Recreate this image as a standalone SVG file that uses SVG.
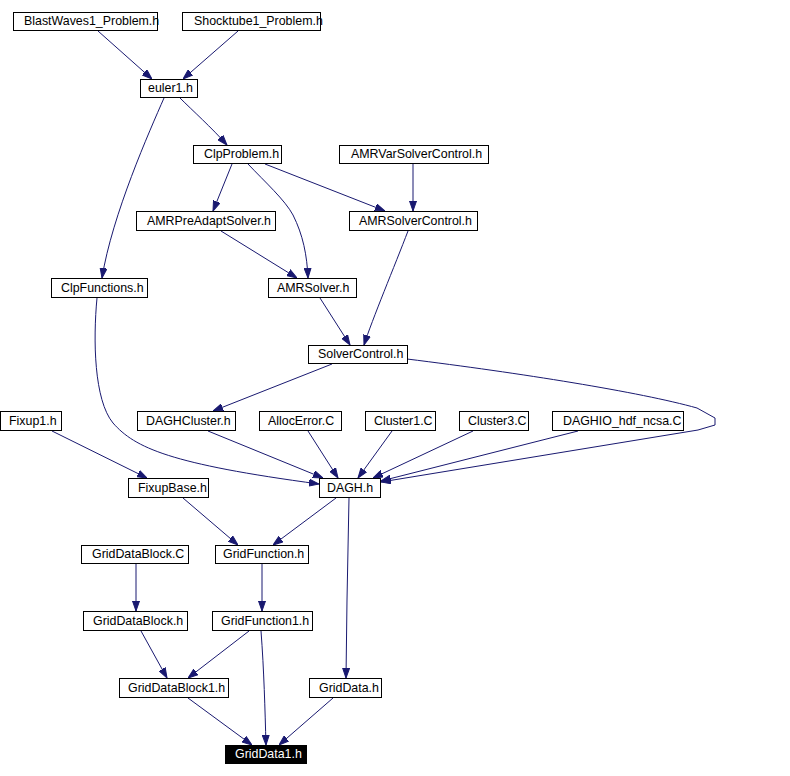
<svg xmlns="http://www.w3.org/2000/svg" width="790" height="776" viewBox="0 0 790 776">
<defs>
<style>
.n rect{fill:#fff;stroke:#000;stroke-width:1}
.n text{font-family:"Liberation Sans",Arial,sans-serif;font-size:12.4px;fill:#000}
#n25 rect{fill:#000}
#n25 text{fill:#fff}
.e path{fill:none;stroke:#191970;stroke-width:1;marker-end:url(#ah)}
</style>
<marker id="ah" markerUnits="userSpaceOnUse" markerWidth="10" markerHeight="8" refX="10" refY="4" orient="auto">
<path d="M0,0.5 L10,4 L0,7.5 z" fill="#191970" stroke="#191970" stroke-width="1"/>
</marker>
</defs>
<rect width="790" height="776" fill="#fff"/>
<g id="edges" class="e">
<path d="M98,31 L152,79"/>
<path d="M238,31 L183,79"/>
<path d="M180,98 C192,110 212,128 227,145"/>
<path d="M164,98 C150,130 112,215 102,278"/>
<path d="M232,164 L213,211"/>
<path d="M248,164 C265,182 285,200 293,215 C303,235 307,255 308,278"/>
<path d="M265,164 L385,211"/>
<path d="M413,164 L413,211"/>
<path d="M221,231 L297,278"/>
<path d="M408,231 C395,265 372,320 364,345"/>
<path d="M320,298 L350,345"/>
<path d="M332,364 L213,411"/>
<path d="M407,359 C520,373 640,392 697,408 L715,418 L715,425 L698,430 L381,482"/>
<path d="M97,298 C93,340 94,400 113,423 C135,448 170,464 319,484"/>
<path d="M208,431 L323,478"/>
<path d="M308,431 L338,478"/>
<path d="M392,431 L358,478"/>
<path d="M473,431 L373,478"/>
<path d="M578,431 L381,481"/>
<path d="M52,431 L147,478"/>
<path d="M183,498 L238,545"/>
<path d="M336,498 L273,545"/>
<path d="M349,498 L347,600 L346,678"/>
<path d="M136,564 L136,611"/>
<path d="M262,564 L262,611"/>
<path d="M141,631 L167,678"/>
<path d="M249,631 L188,678"/>
<path d="M261,631 C264,670 265,710 266,745"/>
<path d="M188,698 L252,745"/>
<path d="M333,698 L279,745"/>
</g>
<g id="n1" class="n"><rect x="13.5" y="12.5" width="144" height="18"/><text x="24" y="25">BlastWaves1_Problem.h</text></g>
<g id="n2" class="n"><rect x="182.5" y="12.5" width="138" height="18"/><text x="194" y="25">Shocktube1_Problem.h</text></g>
<g id="n3" class="n"><rect x="140.5" y="79.5" width="57" height="18"/><text x="148" y="92">euler1.h</text></g>
<g id="n4" class="n"><rect x="193.5" y="145.5" width="88" height="18"/><text x="204" y="158">ClpProblem.h</text></g>
<g id="n5" class="n"><rect x="339.5" y="145.5" width="149" height="18"/><text x="351" y="158">AMRVarSolverControl.h</text></g>
<g id="n6" class="n"><rect x="136.5" y="211.5" width="139" height="19"/><text x="147" y="225">AMRPreAdaptSolver.h</text></g>
<g id="n7" class="n"><rect x="349.5" y="211.5" width="128" height="19"/><text x="359" y="225">AMRSolverControl.h</text></g>
<g id="n8" class="n"><rect x="51.5" y="278.5" width="96" height="19"/><text x="61" y="292">ClpFunctions.h</text></g>
<g id="n9" class="n"><rect x="268.5" y="278.5" width="88" height="19"/><text x="277" y="292">AMRSolver.h</text></g>
<g id="n10" class="n"><rect x="308.5" y="345.5" width="99" height="18"/><text x="318" y="358">SolverControl.h</text></g>
<g id="n11" class="n"><rect x="0.5" y="411.5" width="61" height="19"/><text x="9" y="425">Fixup1.h</text></g>
<g id="n12" class="n"><rect x="137.5" y="411.5" width="98" height="19"/><text x="146" y="425">DAGHCluster.h</text></g>
<g id="n13" class="n"><rect x="259.5" y="411.5" width="82" height="19"/><text x="268" y="425">AllocError.C</text></g>
<g id="n14" class="n"><rect x="365.5" y="411.5" width="70" height="19"/><text x="374" y="425">Cluster1.C</text></g>
<g id="n15" class="n"><rect x="459.5" y="411.5" width="69" height="19"/><text x="468" y="425">Cluster3.C</text></g>
<g id="n16" class="n"><rect x="552.5" y="411.5" width="131" height="19"/><text x="563" y="425">DAGHIO_hdf_ncsa.C</text></g>
<g id="n17" class="n"><rect x="128.5" y="478.5" width="80" height="19"/><text x="138" y="492">FixupBase.h</text></g>
<g id="n18" class="n"><rect x="319.5" y="478.5" width="61" height="19"/><text x="327" y="492">DAGH.h</text></g>
<g id="n19" class="n"><rect x="81.5" y="545.5" width="107" height="18"/><text x="92" y="558">GridDataBlock.C</text></g>
<g id="n20" class="n"><rect x="215.5" y="545.5" width="93" height="18"/><text x="223" y="558">GridFunction.h</text></g>
<g id="n21" class="n"><rect x="83.5" y="611.5" width="104" height="19"/><text x="93" y="625">GridDataBlock.h</text></g>
<g id="n22" class="n"><rect x="212.5" y="611.5" width="100" height="19"/><text x="221" y="625">GridFunction1.h</text></g>
<g id="n23" class="n"><rect x="119.5" y="678.5" width="109" height="19"/><text x="128" y="692">GridDataBlock1.h</text></g>
<g id="n24" class="n"><rect x="309.5" y="678.5" width="72" height="19"/><text x="319" y="692">GridData.h</text></g>
<g id="n25" class="n"><rect x="225.5" y="745.5" width="81" height="18"/><text x="235" y="758">GridData1.h</text></g>
</svg>
